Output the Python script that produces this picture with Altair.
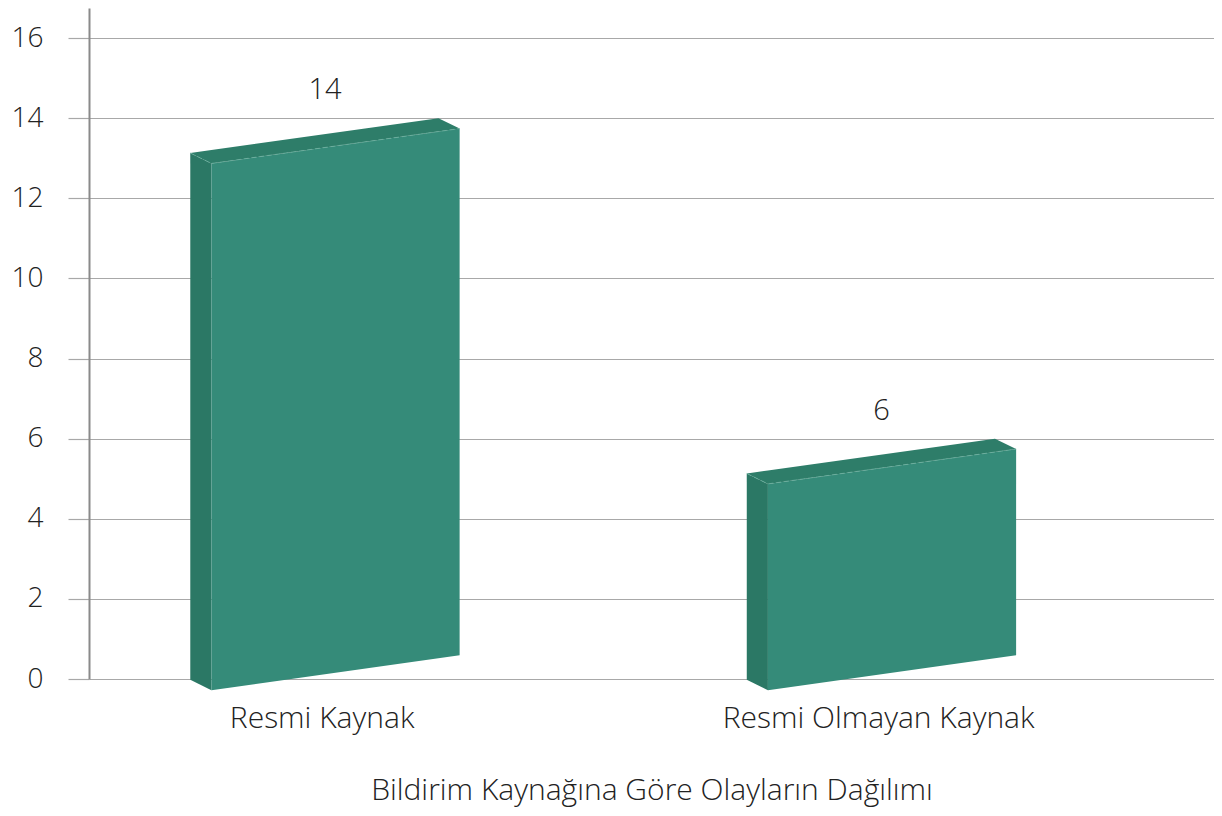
import altair as alt
import pandas as pd

# ---- data ----
categories = ["Resmi Kaynak", "Resmi Olmayan Kaynak"]
values = [14, 6]
y_ticks = [0, 2, 4, 6, 8, 10, 12, 14, 16]
x_title = "Bildirim Kaynağına Göre Olayların Dağılımı"

# ---- 3D bar style (in axis units, relative to each category position) ----
X0 = -0.236   # back/side left edge offset
DX = 0.038    # depth, horizontal
W = 0.446     # face width
K = 0.87      # perspective slope of the face (y rise across width)
D = 0.26      # depth, vertical
B0 = -0.02    # base of back face

side, front, top, edge, labels = [], [], [], [], []
for i, (cat, v) in enumerate(zip(categories, values)):
    xl = i + X0
    xf = xl + DX
    xr = xf + W
    xb = xl + W
    side += [dict(c=cat, x=xl, y=v - K, y2=B0),
             dict(c=cat, x=xf, y=v - K - D, y2=B0 - D)]
    front += [dict(c=cat, x=xf, y=v - K - D, y2=B0 - D),
              dict(c=cat, x=xr, y=v - D, y2=B0 - D + K)]
    top += [dict(c=cat, x=xl, y=v - K, y2=v - K),
            dict(c=cat, x=xf, y=v - K + K * DX / W, y2=v - K - D),
            dict(c=cat, x=xb, y=v, y2=v - D - K * DX / W),
            dict(c=cat, x=xr, y=v - D, y2=v - D)]
    edge += [dict(c=cat, x=xl, y=v - K, o=0),
             dict(c=cat, x=xf, y=v - K - D, o=1),
             dict(c=cat, x=xr, y=v - D, o=2)]
    labels.append(dict(c=cat, x=(xl + xr) / 2, y=v, t=str(v)))

FONT = "Open Sans"
FW = 300
label_expr = " : ".join(
    [f"datum.value == {i} ? '{c}'" for i, c in enumerate(categories)] + ["''"])

x_enc = alt.X("x:Q",
              scale=alt.Scale(domain=[-0.418, 1.6036], nice=False, zero=False),
              axis=alt.Axis(values=list(range(len(categories))), labelExpr=label_expr,
                            title=x_title, grid=False, domain=False, ticks=False,
                            labelPadding=24, titlePadding=42, labelFontSize=30,
                            titleFontSize=30, labelFont=FONT, titleFont=FONT,
                            labelFontWeight=FW, titleFontWeight=FW,
                            labelColor="#222222", titleColor="#222222",
                            labelBaseline="top", labelLimit=1000, titleLimit=1200))
y_enc = alt.Y("y:Q",
              scale=alt.Scale(domain=[0, 16.75], nice=False),
              axis=alt.Axis(values=y_ticks, title=None, grid=True, gridColor="#a8a8a8",
                            gridWidth=1.2, tickSize=21, tickColor="#a8a8a8", tickWidth=1.2,
                            domainColor="#8a8a8a", domainWidth=2, labelPadding=25,
                            labelFontSize=28, labelFont=FONT, labelFontWeight=FW,
                            labelColor="#222222"))

FRONT = "#358b79"
DARK = "#2b7865"

side_l = alt.Chart(pd.DataFrame(side)).mark_area(color=DARK).encode(
    x=x_enc, y=y_enc, y2="y2:Q", detail="c:N")
front_l = alt.Chart(pd.DataFrame(front)).mark_area(color=FRONT).encode(
    x=x_enc, y=y_enc, y2="y2:Q", detail="c:N")
top_l = alt.Chart(pd.DataFrame(top)).mark_area(color="#2e7d69").encode(
    x=x_enc, y=y_enc, y2="y2:Q", detail="c:N")
edge_l = alt.Chart(pd.DataFrame(edge)).mark_line(
    color="#6fb3a3", strokeWidth=1, strokeDash=[5, 3], opacity=0.7).encode(
    x=x_enc, y=y_enc, detail="c:N", order="o:Q")
text_l = alt.Chart(pd.DataFrame(labels)).mark_text(
    font=FONT, fontSize=29, fontWeight=FW, color="#222222", dy=-28,
    baseline="middle").encode(x=x_enc, y=y_enc, text="t:N")

chart = alt.layer(side_l, front_l, top_l, edge_l, text_l).properties(
    width=1125, height=671,
    autosize=alt.AutoSizeParams(type="none"),
    padding={"left": 81, "top": 0, "right": 0, "bottom": 129},
).configure_view(stroke=None)

chart.save("out.html", embed_options={"renderer": "svg", "actions": False})
